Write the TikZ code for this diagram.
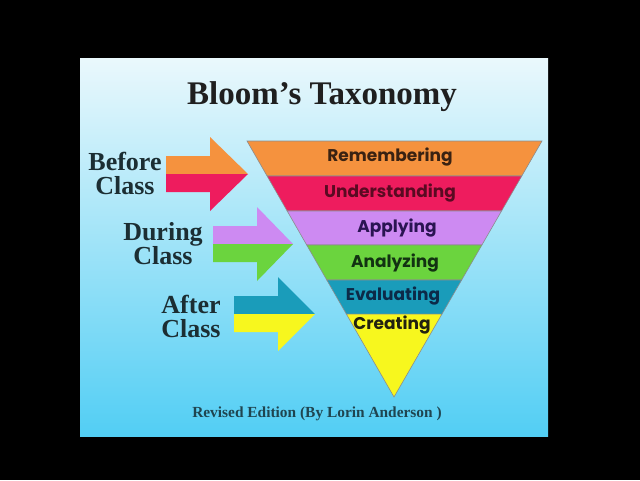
\documentclass[tikz,border=0pt]{standalone}
\usepackage{fontspec}
\newfontfamily\bandfont{Poppins}
\newfontfamily\headfont{Liberation Serif}
\usetikzlibrary{positioning,calc}

\definecolor{remcol}{HTML}{F5923E}
\definecolor{undcol}{HTML}{EE1C5E}
\definecolor{aplcol}{HTML}{CD8AF2}
\definecolor{anacol}{HTML}{6BD43E}
\definecolor{evacol}{HTML}{1A9CBA}
\definecolor{crecol}{HTML}{F7F71E}
\definecolor{remtxt}{HTML}{3A2212}
\definecolor{undtxt}{HTML}{5A0A22}
\definecolor{apltxt}{HTML}{2A1452}
\definecolor{anatxt}{HTML}{123212}
\definecolor{evatxt}{HTML}{0C2A48}
\definecolor{cretxt}{HTML}{222210}
\definecolor{sidetxt}{HTML}{1C2E33}
\definecolor{captxt}{HTML}{1F4550}
\definecolor{paneltop}{HTML}{EAF8FC}
\definecolor{panelbot}{HTML}{52CEF4}

\begin{document}
\begin{tikzpicture}[x=1pt,y=-1pt,
    band/.style={draw=black!45,line width=0.6pt},
    bandtext/.style={font=\bandfont\bfseries\fontsize{17}{17}\selectfont},
    side/.style={font=\headfont\bfseries\fontsize{26}{24}\selectfont,text=sidetxt,align=center}]

    \useasboundingbox (0,0) rectangle (640,480);
    \fill[black] (0,0) rectangle (640,480);
    \shade[top color=paneltop,bottom color=panelbot] (80,58) rectangle (548,436);

    \node[font=\headfont\bfseries\fontsize{33}{33}\selectfont,text=black!88] (title) at (322,97) {Bloom’s Taxonomy};

    % pyramid
    \coordinate (TL) at (247,141);
    \coordinate (TR) at (542,141);
    \coordinate (AP) at (394,397);
    \foreach \a/\b/\col in {0/0.1367/remcol,0.1367/0.2734/undcol,0.2734/0.4063/aplcol,
                            0.4063/0.543/anacol,0.543/0.676/evacol,0.676/1/crecol}
        \filldraw[band,fill=\col] ($(TL)!\a!(AP)$) -- ($(TR)!\a!(AP)$)
            -- ($(TR)!\b!(AP)$) -- ($(TL)!\b!(AP)$) -- cycle;

    \foreach \name/\x/\y/\txt/\lab in {rem/390/157/remtxt/Remembering,und/390/193/undtxt/Understanding,
                                       apl/397/228/apltxt/Applying,ana/395/263/anatxt/Analyzing,
                                       eva/393/296/evatxt/Evaluating,cre/392/325/cretxt/Creating}
        \node[bandtext,text=\txt] (\name) at (\x,\y) {\lab};

    % arrows
    \foreach \s/\hb/\tip/\ty/\up/\lo in {166/210/248/174/remcol/undcol,
                                         213/257/293/244/aplcol/anacol,
                                         234/278/315/314/evacol/crecol}
    {
        \fill[\up] (\s,\ty) -- (\s,\ty-18) -- (\hb,\ty-18) -- (\hb,\ty-37) -- (\tip,\ty) -- cycle;
        \fill[\lo] (\s,\ty) -- (\s,\ty+18) -- (\hb,\ty+18) -- (\hb,\ty+37) -- (\tip,\ty) -- cycle;
    }

    \node[side] (before) at (125,173) {Before\\Class};
    \node[side] (during) at (163,244) {During\\Class};
    \node[side] (after) at (191,316) {After\\Class};

    \node[font=\headfont\bfseries\fontsize{15.4}{15}\selectfont,text=captxt] (caption) at (317,414)
        {Revised Edition (By Lorin Anderson )};
\end{tikzpicture}
\end{document}
